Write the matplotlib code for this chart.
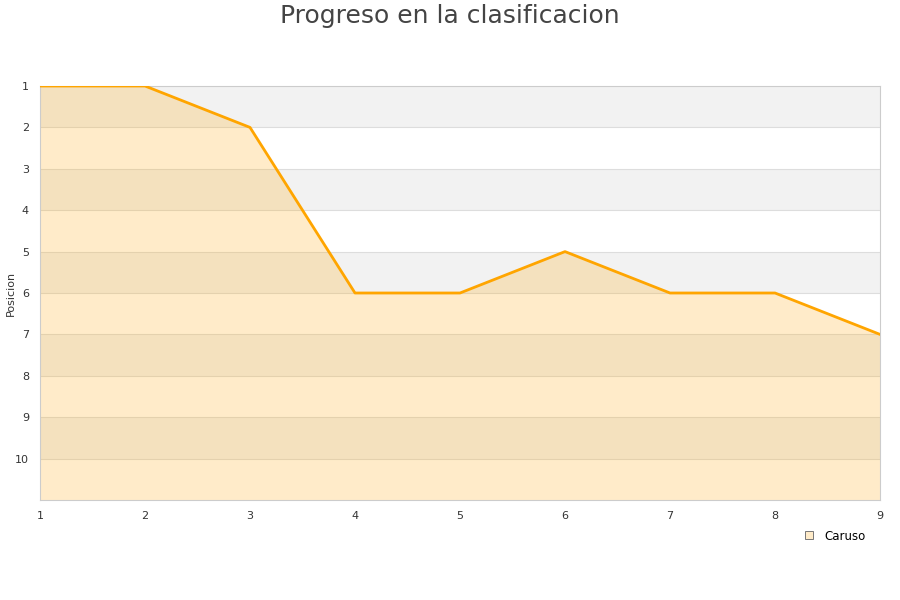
import matplotlib
matplotlib.use("Agg")
import matplotlib.pyplot as plt
from matplotlib.lines import Line2D

# Datos
jornadas = [1, 2, 3, 4, 5, 6, 7, 8, 9]
posiciones = [1, 1, 2, 6, 6, 5, 6, 6, 7]
y_ticks = [1, 2, 3, 4, 5, 6, 7, 8, 9, 10]
equipo = "Caruso"

fig = plt.figure(figsize=(9, 6), dpi=100)
ax = fig.add_axes([40 / 900, 100 / 600, 840 / 900, 414 / 600])

ax.set_xlim(1, 9)
ax.set_ylim(11, 1)

# bandas alternas
for i in range(1, 11, 2):
    ax.axhspan(i, i + 1, color="#f2f2f2", zorder=0, lw=0)
for y in range(2, 11):
    ax.axhline(y, color="#dddddd", lw=0.8, zorder=1)

ax.fill_between(jornadas, posiciones, 11, color="#ffa500", alpha=0.21, lw=0, zorder=2)
ax.plot(jornadas, posiciones, color="#ffa500", lw=2, zorder=3)

ax.set_xticks(jornadas)
ax.set_yticks(y_ticks)
ax.tick_params(length=0, labelsize=8, colors="#333333", pad=8)
for s in ax.spines.values():
    s.set_color("#cccccc")
    s.set_linewidth(0.8)

fig.text(11 / 900, 1 - 293 / 600, "Posicion", rotation=90, fontsize=8, color="#333333",
         ha="center", va="center")
fig.text(0.5, 1 - 16 / 600, "Progreso en la clasificacion", fontsize=18, color="#444444",
         ha="center", va="center")

handle = Line2D([], [], marker="s", ls="", markersize=6, markerfacecolor="#ffebc8",
                markeredgecolor="#777777", markeredgewidth=0.7)
fig.legend([handle], [equipo], loc="center", bbox_to_anchor=(831 / 900, 1 - 536 / 600),
           frameon=False, fontsize=8.5, handletextpad=0.3)

fig.savefig("out.png", dpi=100)
